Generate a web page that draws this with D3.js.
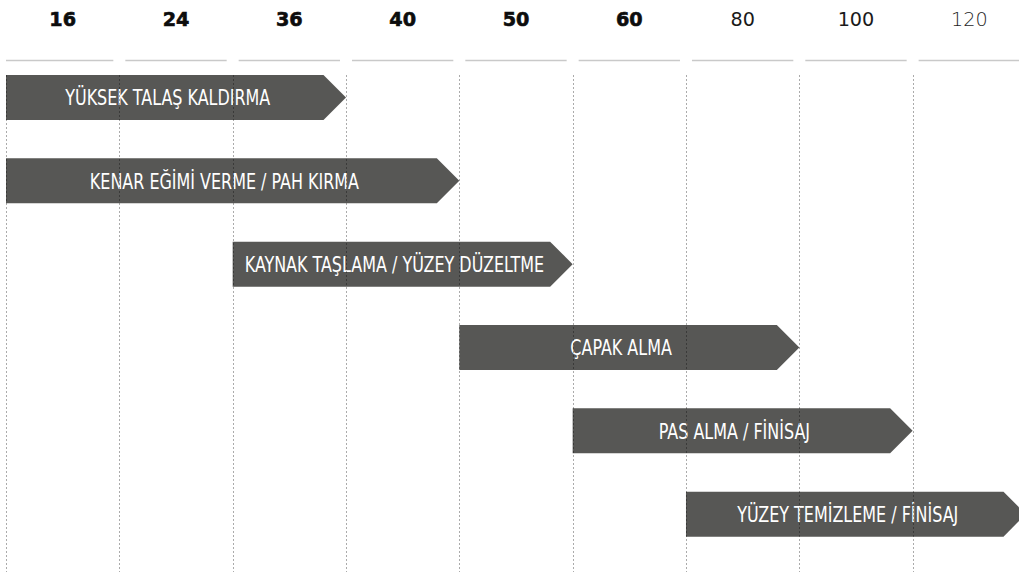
<!DOCTYPE html>
<html lang="tr">
<head>
<meta charset="utf-8">
<script src="https://cdn.jsdelivr.net/npm/d3@7"></script>
<style>
  html, body { margin: 0; padding: 0; background: #fff; overflow: hidden; }
  svg { display: block; }
</style>
</head>
<body>
<svg id="chart" width="1019" height="572"></svg>
<script>
// Grit sizes shown across the top, coarse to fine
const grits = ["16", "24", "36", "40", "50", "60", "80", "100", "120"];

// Applications and the grit range each one covers
const applications = [
  "YÜKSEK TALAŞ KALDIRMA",
  "KENAR EĞİMİ VERME / PAH KIRMA",
  "KAYNAK TAŞLAMA / YÜZEY DÜZELTME",
  "ÇAPAK ALMA",
  "PAS ALMA / FİNİSAJ",
  "YÜZEY TEMİZLEME / FİNİSAJ"
];
const startGrit = ["16", "16", "36", "50", "60", "80"];
const endGrit   = ["36", "40", "50", "80", "100", "120"];

(function draw() {
  const svg = d3.select("#chart");
  const W = 1019, H = 572;

  const colW = 113.33;
  const x = d3.scaleBand()
    .domain(grits)
    .range([6, 6 + grits.length * colW])
    .padding(0);

  const barH = 45, rowStep = 83.33, gridTop = 75;
  const y = d3.scaleBand()
    .domain(applications)
    .range([gridTop, gridTop + (applications.length - 1) * rowStep + barH])
    .paddingInner(1 - barH / rowStep)
    .paddingOuter(0);

  // Header: grit numbers, heavy for coarse grits, lighter for fine ones
  const headerStyle = g => {
    if (g === "120") return { weight: 200, fill: "#1e1e1e", stroke: 0 };
    if (g === "80" || g === "100") return { weight: 400, fill: "#1a1a1a", stroke: 0 };
    return { weight: 700, fill: "#0d0d0d", stroke: 0.6 };
  };

  svg.append("g").attr("class", "header")
    .selectAll("text")
    .data(grits)
    .join("text")
    .attr("x", d => x(d) + x.bandwidth() / 2)
    .attr("y", 25.5)
    .attr("text-anchor", "middle")
    .attr("font-family", "'DejaVu Sans', sans-serif")
    .attr("font-size", 19.2)
    .attr("font-weight", d => headerStyle(d).weight)
    .attr("fill", d => headerStyle(d).fill)
    .attr("stroke", d => headerStyle(d).fill)
    .attr("stroke-width", d => headerStyle(d).stroke)
    .text(d => d);

  // Short rule under each header cell
  svg.append("g").attr("class", "header-rules")
    .selectAll("line")
    .data(grits)
    .join("line")
    .attr("x1", (d, i) => i === 0 ? x(d) : x(d) + 6)
    .attr("x2", d => x(d) + x.bandwidth() - 6)
    .attr("y1", 60.5)
    .attr("y2", 60.5)
    .attr("stroke", "#c9c9c9")
    .attr("stroke-width", 1.6);

  // Arrow-shaped bars spanning the grit range of each application
  const head = barH / 2;
  const arrowPath = (x0, x1, y0, h) => {
    const p = d3.path();
    p.moveTo(x0, y0);
    p.lineTo(x1 - head, y0);
    p.lineTo(x1, y0 + h / 2);
    p.lineTo(x1 - head, y0 + h);
    p.lineTo(x0, y0 + h);
    p.closePath();
    return p.toString();
  };

  const rows = applications.map((name, i) => ({
    name,
    x0: x(startGrit[i]),
    x1: x(endGrit[i]) + x.bandwidth(),
    y0: y(name)
  }));

  const bars = svg.append("g").attr("class", "bars")
    .selectAll("g")
    .data(rows)
    .join("g");

  bars.append("path")
    .attr("d", d => arrowPath(d.x0, d.x1, d.y0, y.bandwidth()))
    .attr("fill", "#575755");

  bars.append("text")
    .attr("transform", d => `translate(${(d.x0 + d.x1 - head) / 2 + 3},${d.y0 + y.bandwidth() / 2 + 7.8}) scale(0.845,1)`)
    .attr("text-anchor", "middle")
    .attr("font-family", "'DejaVu Sans Condensed', 'DejaVu Sans', sans-serif")
    .attr("font-stretch", "condensed")
    .attr("font-size", 21)
    .attr("fill", "#fff")
    .text(d => d.name);

  // Dashed column dividers, drawn over the bars
  svg.append("g").attr("class", "dividers")
    .selectAll("line")
    .data(grits)
    .join("line")
    .attr("x1", d => Math.round(x(d)) + 0.5)
    .attr("x2", d => Math.round(x(d)) + 0.5)
    .attr("y1", gridTop)
    .attr("y2", H)
    .attr("stroke", "rgba(0,0,0,0.33)")
    .attr("stroke-width", 1)
    .attr("stroke-dasharray", "2,2");
})();
</script>
</body>
</html>
